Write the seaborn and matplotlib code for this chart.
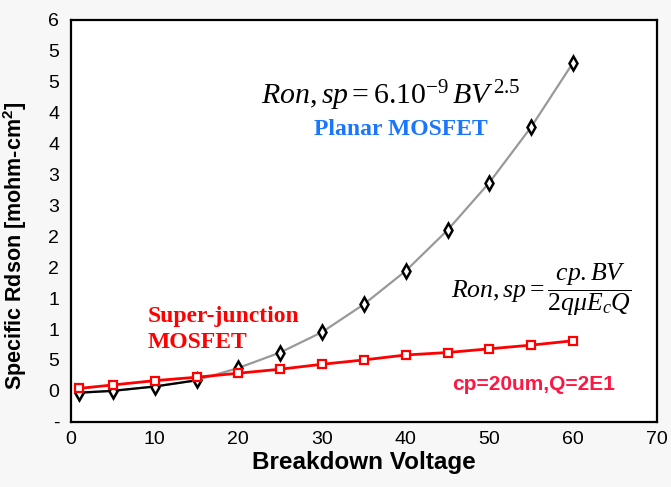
import numpy as np
import pandas as pd
import matplotlib
matplotlib.use('Agg')
import matplotlib.pyplot as plt
import seaborn as sns

# breakdown voltage points (same for both curves)
bv = [1, 5, 10, 15, 20, 25, 30, 35, 40, 45, 50, 55, 60]
# planar MOSFET
ron_planar = [-0.03, 0.0, 0.07, 0.17, 0.37, 0.62, 0.95, 1.40, 1.94, 2.60, 3.37, 4.27, 5.31]
# super-junction MOSFET
ron_sj = [0.04, 0.095, 0.165, 0.22, 0.285, 0.35, 0.43, 0.50, 0.58, 0.62, 0.68, 0.74, 0.81]

x_ticks = [0, 10, 20, 30, 40, 50, 60, 70]
y_ticks = [-0.5, 0, 0.5, 1, 1.5, 2, 2.5, 3, 3.5, 4, 4.5, 5, 5.5, 6]
y_ticklabels = ['-', '0', '5', '1', '1', '2', '2', '3', '3', '4', '4', '5', '5', '6']

sns.set_style('white')
plt.rcParams['font.family'] = ['Liberation Sans', 'DejaVu Sans']
plt.rcParams['text.color'] = 'black'
plt.rcParams['axes.labelcolor'] = 'black'
plt.rcParams['mathtext.fontset'] = 'custom'
plt.rcParams['mathtext.rm'] = 'Liberation Serif'
plt.rcParams['mathtext.it'] = 'Liberation Serif:italic'
plt.rcParams['mathtext.bf'] = 'Liberation Serif:bold'

df_planar = pd.DataFrame({'bv': bv, 'ron': ron_planar})
df_sj = pd.DataFrame({'bv': bv, 'ron': ron_sj})

fig = plt.figure(figsize=(6.71, 4.87), dpi=100, facecolor='#f7f7f7')
ax = fig.add_axes([0.1058, 0.134, 0.873, 0.825])
ax.set_facecolor('white')

# grey trend through the planar points
sns.lineplot(data=df_planar, x='bv', y='ron', ax=ax, color='#999999', lw=1.6, zorder=2)
# black segment at low voltage
sns.lineplot(data=df_planar.iloc[:4], x='bv', y='ron', ax=ax, color='black', lw=1.6, zorder=3)
sns.lineplot(data=df_planar, x='bv', y='ron', ax=ax, color='black', lw=0, marker='d',
             markersize=7.5, markerfacecolor='white', markeredgecolor='black',
             markeredgewidth=1.8, zorder=4)
sns.lineplot(data=df_sj, x='bv', y='ron', ax=ax, color='#ff0000', lw=2, marker='s',
             markersize=6, markerfacecolor='white', markeredgecolor='#ff0000',
             markeredgewidth=1.6, zorder=5)

ax.set_xlim(0, 70)
ax.set_ylim(-0.5, 6)
ax.set_xticks(x_ticks)
ax.set_xticklabels([str(t) for t in x_ticks])
ax.set_yticks(y_ticks)
ax.set_yticklabels(y_ticklabels)
ax.tick_params(axis='x', direction='in', length=7, width=1, labelsize=14, pad=7, colors='black')
ax.tick_params(axis='y', direction='inout', length=5, width=1, labelsize=14, pad=6, colors='black')
for s in ax.spines.values():
    s.set_visible(True)
    s.set_color('black')
    s.set_linewidth(1.6)

ax.set_xlabel('Breakdown Voltage', fontsize=17.5, fontweight='bold', labelpad=2)
ax.set_ylabel('Specific Rdson [mohm-cm$\\mathregular{^2}$]', fontsize=15.5, fontweight='bold')
ax.yaxis.set_label_coords(-0.072, 0.437)

serif = ['Liberation Serif', 'DejaVu Serif']
ax.text(38.2, 4.78, r'$Ron,sp=6.10^{-9}\,BV^{\,2.5}$', fontsize=21.5, ha='center', va='center')
ax.text(39.4, 4.22, 'Planar MOSFET', fontsize=17, fontweight='bold', color='#1a75ff',
        family=serif, ha='center', va='center')
ax.text(56.2, 1.63, r'$Ron,sp=\dfrac{cp.BV}{2q\mu E_cQ}$', fontsize=18.5, ha='center', va='center')
ax.text(9.2, 1.2, 'Super-junction', fontsize=17, fontweight='bold', color='#ff0000',
        family=serif, ha='left', va='center')
ax.text(9.2, 0.78, 'MOSFET', fontsize=17, fontweight='bold', color='#ff0000',
        family=serif, ha='left', va='center')
ax.text(55.3, 0.1, 'cp=20um,Q=2E1', fontsize=15, fontweight='bold', color='#ff1744',
        ha='center', va='center')

fig.savefig('out.png', dpi=100, facecolor=fig.get_facecolor())
